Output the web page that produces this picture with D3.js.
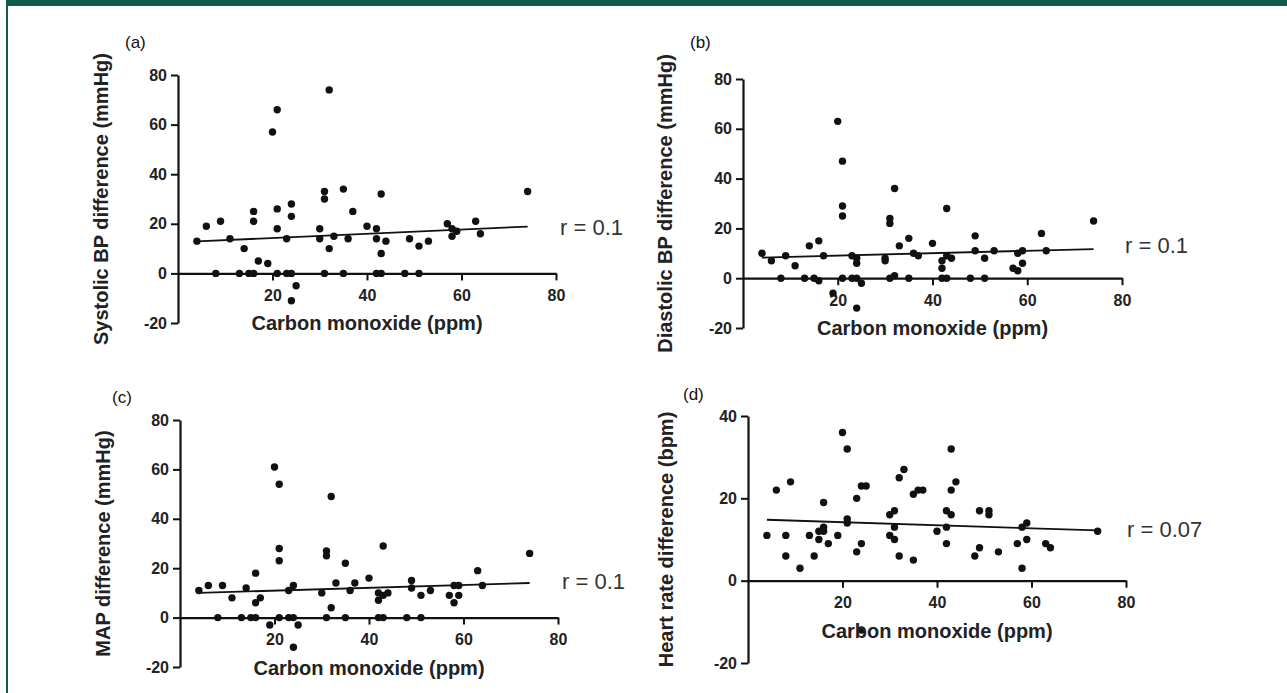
<!DOCTYPE html>
<html>
<head>
<meta charset="utf-8">
<script src="https://cdn.jsdelivr.net/npm/d3@7"></script>
<style>
  html, body { margin: 0; padding: 0; background: #ffffff; }
  svg { display: block; }
  text { font-family: "Liberation Sans", Arial, Helvetica, sans-serif; }
</style>
</head>
<body>
<svg id="chart" width="1287" height="693"></svg>
<script>
// ---------------- DATA ----------------
const xTicks = [20, 40, 60, 80];
const bpTicks = [-20, 0, 20, 40, 60, 80];
const hrTicks = [-20, 0, 20, 40];

const panelTags = ["(a)", "(b)", "(c)", "(d)"];
const xAxisTitle = "Carbon monoxide (ppm)";
const yTitles = ["Systolic BP difference (mmHg)", "Diastolic BP difference (mmHg)", "MAP difference (mmHg)", "Heart rate difference (bpm)"];
const rLabels = ["r = 0.1", "r = 0.1", "r = 0.1", "r = 0.07"];

// (a) Systolic BP difference
const sbpCO = [4,6,8,9,11,13,14,15,16,16,16,17,19,20,21,21,21,21,23,23,24,24,24,24,25,30,30,31,31,31,32,32,33,35,35,36,37,40,42,42,42,43,43,43,44,48,49,51,51,53,57,58,59,58,63,64,74];
const sbpDiff = [13,19,0,21,14,0,10,0,0,25,21,5,4,57,66,26,18,0,14,0,28,23,0,-11,-5,18,14,33,30,0,74,10,15,34,0,14,25,19,18,14,0,32,8,0,13,0,14,11,0,13,20,18,17,15,21,16,33];
const sbpFit = [[4, 12.9], [74, 18.9]];

// (b) Diastolic BP difference
const dbpCO = [4,6,8,9,11,13,14,15,16,16,17,19,20,21,21,21,21,23,23,24,24,24,24,25,30,30,31,31,31,32,32,33,35,35,36,37,40,42,42,42,43,43,43,44,48,49,49,51,51,53,57,58,58,59,59,63,64,74];
const dbpDiff = [10,7,0,9,5,0,13,0,15,-1,9,-6,63,47,29,25,0,9,0,8,6,0,-12,-2,8,7,24,22,0,36,1,13,16,0,10,9,14,7,4,0,28,0,9,8,0,17,11,0,8,11,4,3,10,11,6,18,11,23];
const dbpFit = [[4, 8.3], [74, 11.7]];

// (c) MAP difference
const mapCO = [4,6,8,9,11,13,14,15,16,16,16,17,19,20,21,21,21,21,23,23,24,24,24,25,30,31,31,31,32,32,33,35,35,36,37,40,42,42,42,43,43,43,44,48,49,49,51,51,53,57,58,58,59,59,63,64,74];
const mapDiff = [11,13,0,13,8,0,12,0,0,18,6,8,-3,61,54,28,23,0,11,0,13,0,-12,-3,10,27,25,0,49,4,14,22,0,11,14,16,7,10,0,29,9,0,10,0,15,12,0,9,11,9,6,13,13,9,19,13,26];
const mapFit = [[4, 10], [74, 14]];

// (d) Heart rate difference
const hrCO = [4,6,8,8,9,11,13,14,15,15,16,16,16,17,19,20,21,21,21,23,23,24,24,24,25,30,30,31,31,31,32,32,33,35,35,36,37,40,42,42,42,43,43,43,44,48,49,49,51,51,53,57,58,58,59,59,63,64,74];
const hrDiff = [11,22,11,6,24,3,11,6,10,12,12,13,19,9,11,36,32,15,14,20,7,23,9,-12,23,11,16,17,10,13,6,25,27,5,21,22,22,12,13,9,17,32,22,16,24,6,17,8,17,16,7,9,3,13,14,10,9,8,12];
const hrFit = [[4, 14.8], [74, 12.2]];

// ---------------- LAYOUT ----------------
const panels = [
  { tag: 0, xs: sbpCO, ys: sbpDiff, fit: sbpFit, yTicks: bpTicks, xr: [178, 556], yr: [323, 75], tagPos: [125, 48], rPos: [560, 235], yTitleX: 108 },
  { tag: 1, xs: dbpCO, ys: dbpDiff, fit: dbpFit, yTicks: bpTicks, xr: [743, 1122], yr: [328, 79], tagPos: [690, 48], rPos: [1125, 253], yTitleX: 672 },
  { tag: 2, xs: mapCO, ys: mapDiff, fit: mapFit, yTicks: bpTicks, xr: [180, 558], yr: [667, 420], tagPos: [112, 403], rPos: [562, 589], yTitleX: 110 },
  { tag: 3, xs: hrCO, ys: hrDiff, fit: hrFit, yTicks: hrTicks, xr: [748, 1126], yr: [663, 416], tagPos: [683, 400], rPos: [1127, 537], yTitleX: 673 }
];

const svg = d3.select("#chart");
const green = "#11594a";

// frame
svg.append("rect").attr("x", 6).attr("y", 0).attr("width", 1281).attr("height", 6).attr("fill", green);
svg.append("rect").attr("x", 6).attr("y", 0).attr("width", 2).attr("height", 693).attr("fill", green);

panels.forEach(p => {
  const yDom = [p.yTicks[0], p.yTicks[p.yTicks.length - 1]];
  const x = d3.scaleLinear().domain([0, 80]).range(p.xr);
  const y = d3.scaleLinear().domain(yDom).range(p.yr);
  const g = svg.append("g");

  // y axis
  const ya = g.append("g")
    .attr("transform", `translate(${x(0)},0)`)
    .call(d3.axisLeft(y).tickValues(p.yTicks).tickSize(7).tickSizeOuter(0).tickPadding(4).tickFormat(d => String(d)));
  // x axis at y = 0
  const xa = g.append("g")
    .attr("transform", `translate(0,${y(0)})`)
    .call(d3.axisBottom(x).tickValues(xTicks).tickSize(7).tickSizeOuter(0).tickPadding(9).tickFormat(d => String(d)));

  [ya, xa].forEach(a => {
    a.select(".domain").attr("stroke", "#111").attr("stroke-width", 2.2);
    a.selectAll(".tick line").attr("stroke", "#111").attr("stroke-width", 2);
    a.selectAll(".tick text").attr("fill", "#222").attr("font-size", 16).attr("font-weight", "bold")
      .attr("font-family", "'Liberation Sans', Arial, sans-serif");
  });

  // regression line
  g.append("path")
    .datum(p.fit)
    .attr("fill", "none").attr("stroke", "#111").attr("stroke-width", 1.8)
    .attr("d", d3.line().x(d => x(d[0])).y(d => y(d[1])));

  // points
  g.selectAll("circle.pt")
    .data(p.xs.map((v, i) => [v, p.ys[i]]))
    .join("circle")
    .attr("class", "pt")
    .attr("cx", d => x(d[0]))
    .attr("cy", d => y(d[1]))
    .attr("r", 3.7)
    .attr("fill", "#111");

  // x title
  g.append("text")
    .attr("x", (p.xr[0] + p.xr[1]) / 2)
    .attr("y", y(0) + 57)
    .attr("text-anchor", "middle")
    .attr("font-size", 20).attr("font-weight", "bold").attr("fill", "#222")
    .text(xAxisTitle);

  // y title
  g.append("text")
    .attr("transform", `translate(${p.yTitleX},${(p.yr[0] + p.yr[1]) / 2}) rotate(-90)`)
    .attr("text-anchor", "middle")
    .attr("font-size", 20).attr("font-weight", "bold").attr("fill", "#222")
    .text(yTitles[p.tag]);

  // panel tag
  g.append("text")
    .attr("x", p.tagPos[0]).attr("y", p.tagPos[1])
    .attr("font-size", 17).attr("fill", "#111")
    .text(panelTags[p.tag]);

  // r label
  g.append("text")
    .attr("x", p.rPos[0]).attr("y", p.rPos[1])
    .attr("font-size", 22).attr("fill", "#333")
    .text(rLabels[p.tag]);
});
</script>
</body>
</html>
